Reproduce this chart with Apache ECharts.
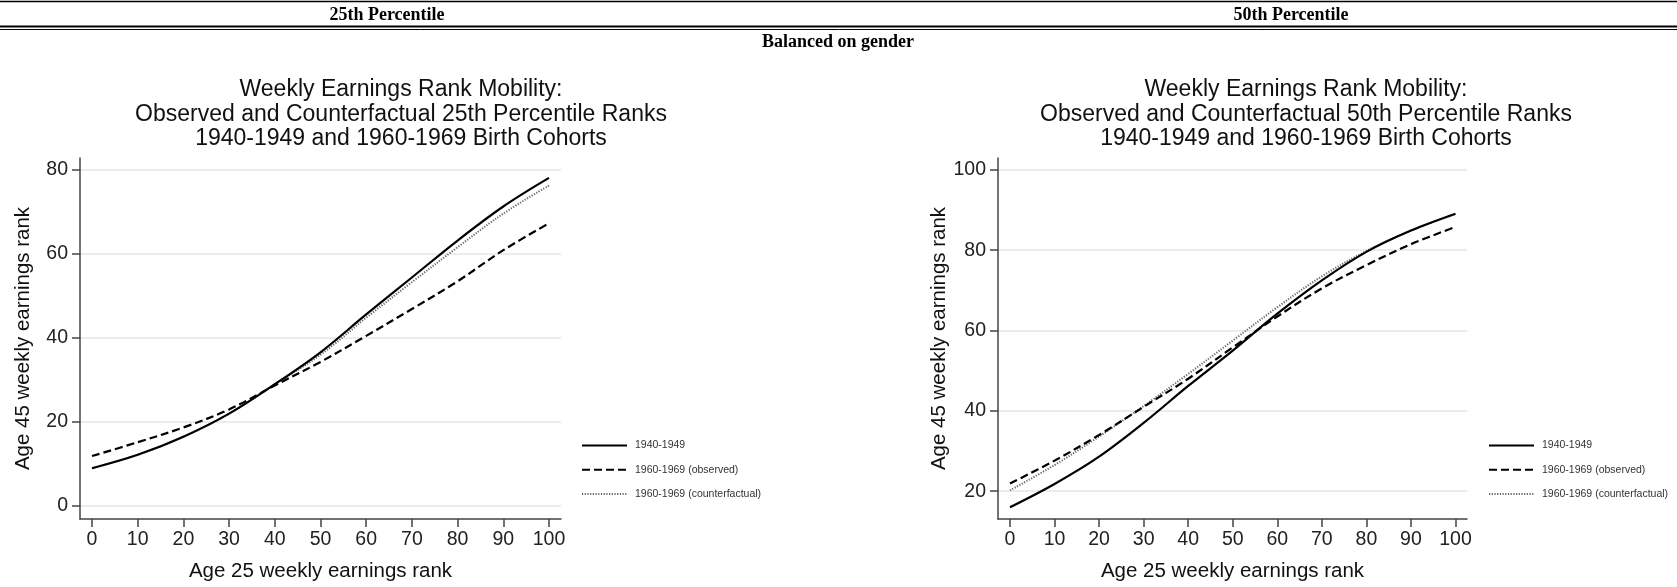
<!DOCTYPE html>
<html>
<head>
<meta charset="utf-8">
<script src="https://cdn.jsdelivr.net/npm/echarts@6/dist/echarts.min.js"></script>
<style>
html,body{margin:0;padding:0;background:#fff;}
#chart{width:1677px;height:587px;}
</style>
</head>
<body>
<div id="chart"></div>
<script>
// ---- data ----
const xRanks = [0, 10, 20, 30, 40, 50, 60, 70, 80, 90, 100];
const xTicks = [0, 10, 20, 30, 40, 50, 60, 70, 80, 90, 100];

const p25Cohort1940 = [9.0, 12.2, 16.5, 22.0, 29.0, 36.6, 45.6, 54.4, 63.2, 71.3, 78.1];
const p25Observed1960 = [11.9, 15.2, 18.7, 23.0, 28.7, 34.3, 40.5, 46.9, 53.5, 60.9, 67.3];
const p25Counter1960 = [9.0, 12.2, 16.5, 22.0, 29.0, 36.0, 44.8, 53.3, 61.6, 69.6, 76.3];
const p25YTicks = [0, 20, 40, 60, 80];

const p50Cohort1940 = [16.0, 21.8, 28.6, 37.0, 46.2, 55.0, 64.2, 72.5, 79.6, 84.9, 89.1];
const p50Observed1960 = [21.9, 27.6, 34.0, 41.0, 48.0, 55.8, 63.5, 70.5, 76.3, 81.5, 85.8];
const p50Counter1960 = [20.2, 26.5, 33.6, 41.2, 49.2, 57.5, 65.8, 73.5, 79.8, 84.9, 89.0];
const p50YTicks = [20, 40, 60, 80, 100];

const seriesNames = ['1940-1949', '1960-1969 (observed)', '1960-1969 (counterfactual)'];
const titleLeft = 'Weekly Earnings Rank Mobility:\nObserved and Counterfactual 25th Percentile Ranks\n1940-1949 and 1960-1969 Birth Cohorts';
const titleRight = 'Weekly Earnings Rank Mobility:\nObserved and Counterfactual 50th Percentile Ranks\n1940-1949 and 1960-1969 Birth Cohorts';
const xName = 'Age 25 weekly earnings rank';
const yName = 'Age 45 weekly earnings rank';

// ---- build ----
const pairs = (ys) => xRanks.map((x, i) => [x, ys[i]]);
const FONT = '"Liberation Sans", Arial, Helvetica, sans-serif';
const SERIF = 'bold 18px "Liberation Serif", "Times New Roman", serif';
const axisColor = '#444';

const styles = [
  { color: '#000', width: 2.2, type: 'solid' },
  { color: '#000', width: 2.2, type: [8, 4] },
  { color: '#666', width: 2, type: [1.2, 1.5] }
];

function mkSeries(gi, arrs) {
  return arrs.map((ys, i) => ({
    name: seriesNames[i],
    type: 'line',
    xAxisIndex: gi,
    yAxisIndex: gi,
    data: pairs(ys),
    smooth: 0.35,
    symbol: 'none',
    z: 3 - i,
    lineStyle: styles[i],
    itemStyle: { color: styles[i].color },
    emphasis: { disabled: true }
  }));
}

function mkX(gi, min, max) {
  return {
    gridIndex: gi, type: 'value', min: min, max: max,
    name: xName, nameLocation: 'middle', nameGap: 42,
    nameTextStyle: { fontFamily: FONT, fontSize: 20.5, color: '#111' },
    axisLine: { show: true, onZero: false, lineStyle: { color: axisColor, width: 1.5 } },
    axisTick: { show: true, length: 8, customValues: xTicks, lineStyle: { color: axisColor, width: 1.5 } },
    axisLabel: { customValues: xTicks, margin: 11, fontFamily: FONT, fontSize: 19.5, color: '#222' },
    splitLine: { show: false }
  };
}
function mkY(gi, min, max, ticks, gap) {
  return {
    gridIndex: gi, type: 'value', min: min, max: max,
    name: yName, nameLocation: 'middle', nameGap: gap,
    nameTextStyle: { fontFamily: FONT, fontSize: 20.5, color: '#111' },
    axisLine: { show: true, onZero: false, lineStyle: { color: axisColor, width: 1.5 } },
    axisTick: { show: true, length: 8, customValues: ticks, lineStyle: { color: axisColor, width: 1.5 } },
    axisLabel: { customValues: ticks, margin: 12, fontFamily: FONT, fontSize: 19.5, color: '#222' },
    splitLine: { show: true, customValues: ticks, lineStyle: { color: '#e6e6e6', width: 1.5 } }
  };
}
function mkLegend(left) {
  return {
    data: seriesNames,
    orient: 'vertical',
    left: left, top: 435,
    itemWidth: 45, itemHeight: 14, itemGap: 13,
    selectedMode: false,
    itemStyle: { opacity: 0 },
    textStyle: { fontFamily: FONT, fontSize: 10.5, color: '#333', padding: [0, 0, 0, 3] }
  };
}

const chart = echarts.init(document.getElementById('chart'), null, { renderer: 'canvas' });
chart.setOption({
  animation: false,
  backgroundColor: '#fff',
  title: [
    { text: titleLeft, left: 396, top: 72, textAlign: 'center',
      textStyle: { fontFamily: FONT, fontSize: 23, fontWeight: 'normal', color: '#111', lineHeight: 24.8, align: 'center' } },
    { text: titleRight, left: 1301, top: 72, textAlign: 'center',
      textStyle: { fontFamily: FONT, fontSize: 23, fontWeight: 'normal', color: '#111', lineHeight: 24.8, align: 'center' } }
  ],
  legend: [mkLegend(576), mkLegend(1483)],
  grid: [
    { left: 80, top: 158, width: 481, height: 363, containLabel: false },
    { left: 998, top: 158, width: 469, height: 363, containLabel: false }
  ],
  xAxis: [mkX(0, -2.63, 102.63), mkX(1, -2.69, 102.58)],
  yAxis: [mkY(0, -3.08, 82.84, p25YTicks, 46), mkY(1, 13.07, 102.97, p50YTicks, 47)],
  series: [].concat(mkSeries(0, [p25Cohort1940, p25Observed1960, p25Counter1960]),
                    mkSeries(1, [p50Cohort1940, p50Observed1960, p50Counter1960])),
  graphic: [
    { type: 'line', shape: { x1: 0, y1: 1.5, x2: 1677, y2: 1.5 }, style: { stroke: '#000', lineWidth: 1.5 } },
    { type: 'line', shape: { x1: 118, y1: 0, x2: 118, y2: 1 }, style: { stroke: '#bbb', lineWidth: 1 } },
    { type: 'line', shape: { x1: 540, y1: 0, x2: 540, y2: 1 }, style: { stroke: '#bbb', lineWidth: 1 } },
    { type: 'line', shape: { x1: 754, y1: 0, x2: 754, y2: 1 }, style: { stroke: '#bbb', lineWidth: 1 } },
    { type: 'line', shape: { x1: 888, y1: 0, x2: 888, y2: 1 }, style: { stroke: '#bbb', lineWidth: 1 } },
    { type: 'line', shape: { x1: 0, y1: 26.5, x2: 1677, y2: 26.5 }, style: { stroke: '#000', lineWidth: 2 } },
    { type: 'line', shape: { x1: 0, y1: 29.5, x2: 1677, y2: 29.5 }, style: { stroke: '#000', lineWidth: 1 } },
    { type: 'text', x: 387, y: 15, style: { text: '25th Percentile', font: SERIF, fill: '#000', textAlign: 'center', textVerticalAlign: 'middle' } },
    { type: 'text', x: 1291, y: 15, style: { text: '50th Percentile', font: SERIF, fill: '#000', textAlign: 'center', textVerticalAlign: 'middle' } },
    { type: 'text', x: 838, y: 42, style: { text: 'Balanced on gender', font: SERIF, fill: '#000', textAlign: 'center', textVerticalAlign: 'middle' } }
  ]
});
</script>
</body>
</html>
